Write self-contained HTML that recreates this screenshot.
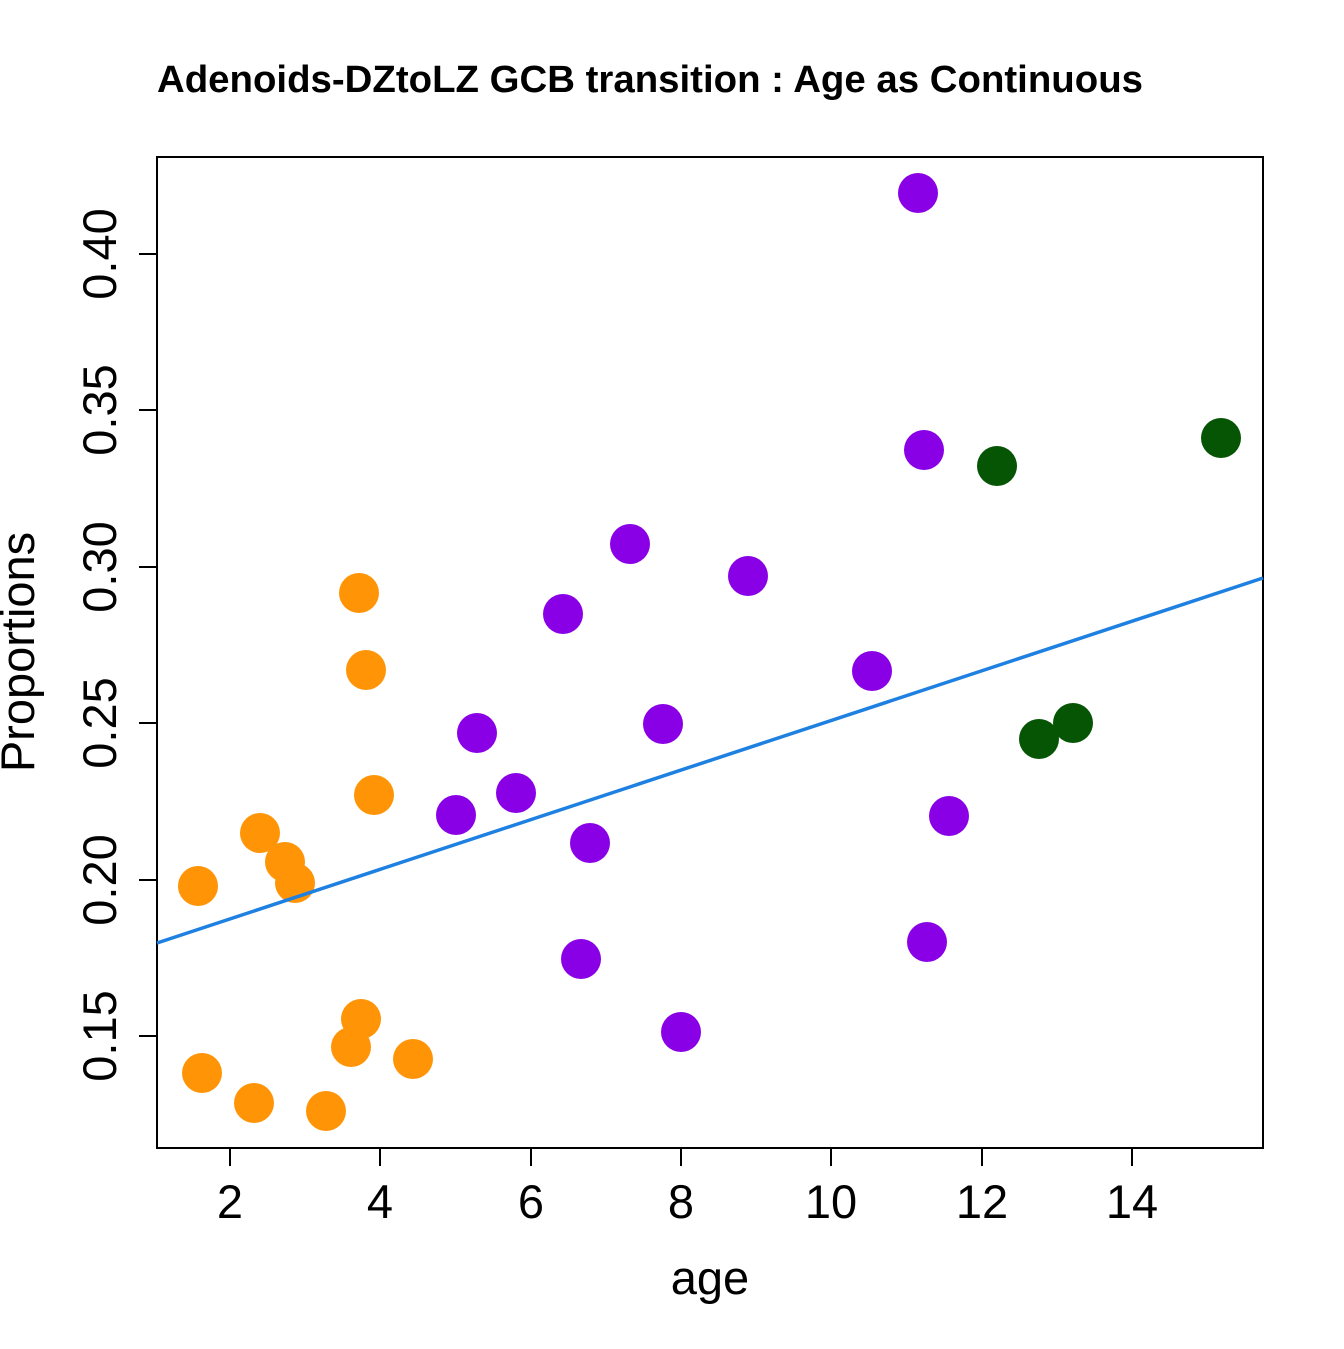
<!DOCTYPE html>
<html><head><style>body{margin:0;background:#fff}</style></head><body>
<svg width="1344" height="1344" xmlns="http://www.w3.org/2000/svg" font-family="Liberation Sans, Arial, sans-serif">
<rect width="1344" height="1344" fill="#fff"/>
<text x="157" y="92" font-size="38" font-weight="bold" textLength="986" lengthAdjust="spacingAndGlyphs">Adenoids-DZtoLZ GCB transition : Age as Continuous</text>
<rect x="157" y="157" width="1106" height="991" fill="none" stroke="#000" stroke-width="2"/>
<g stroke="#000" stroke-width="2">
<line x1="230" y1="1148" x2="1132" y2="1148"/>
<line x1="230" y1="1148" x2="230" y2="1166"/><line x1="380" y1="1148" x2="380" y2="1166"/><line x1="531" y1="1148" x2="531" y2="1166"/><line x1="681" y1="1148" x2="681" y2="1166"/><line x1="831" y1="1148" x2="831" y2="1166"/><line x1="982" y1="1148" x2="982" y2="1166"/><line x1="1132" y1="1148" x2="1132" y2="1166"/>
<line x1="157" y1="254" x2="157" y2="1036"/>
<line x1="139" y1="254" x2="157" y2="254"/><line x1="139" y1="410" x2="157" y2="410"/><line x1="139" y1="567" x2="157" y2="567"/><line x1="139" y1="723" x2="157" y2="723"/><line x1="139" y1="880" x2="157" y2="880"/><line x1="139" y1="1036" x2="157" y2="1036"/>
</g>
<g font-size="47" text-anchor="middle">
<text x="230" y="1218">2</text><text x="380" y="1218">4</text><text x="531" y="1218">6</text><text x="681" y="1218">8</text><text x="831" y="1218">10</text><text x="982" y="1218">12</text><text x="1132" y="1218">14</text>
<text transform="translate(116,254) rotate(-90)">0.40</text>
<text transform="translate(116,410) rotate(-90)">0.35</text>
<text transform="translate(116,567) rotate(-90)">0.30</text>
<text transform="translate(116,723) rotate(-90)">0.25</text>
<text transform="translate(116,880) rotate(-90)">0.20</text>
<text transform="translate(116,1036) rotate(-90)">0.15</text>
<text x="710" y="1294">age</text>
<text transform="translate(34,652) rotate(-90)">Proportions</text>
</g>
<g fill="#FF9406">
<circle cx="198" cy="886" r="20"/><circle cx="202" cy="1073" r="20"/><circle cx="254" cy="1103" r="20"/><circle cx="260" cy="833" r="20"/><circle cx="285" cy="862" r="20"/><circle cx="295" cy="883" r="20"/><circle cx="326" cy="1111" r="20"/><circle cx="351" cy="1047" r="20"/><circle cx="361" cy="1019" r="20"/><circle cx="359" cy="593" r="20"/><circle cx="366" cy="670" r="20"/><circle cx="374" cy="795" r="20"/><circle cx="413" cy="1059" r="20"/>
</g>
<g fill="#8A00E6">
<circle cx="918" cy="193" r="20"/><circle cx="924" cy="450" r="20"/><circle cx="630" cy="544" r="20"/><circle cx="748" cy="576" r="20"/><circle cx="563" cy="614" r="20"/><circle cx="872" cy="671" r="20"/><circle cx="663" cy="724" r="20"/><circle cx="477" cy="733" r="20"/><circle cx="516" cy="793" r="20"/><circle cx="456" cy="815" r="20"/><circle cx="590" cy="843" r="20"/><circle cx="949" cy="816" r="20"/><circle cx="581" cy="959" r="20"/><circle cx="927" cy="942" r="20"/><circle cx="681" cy="1032" r="20"/>
</g>
<g fill="#055505">
<circle cx="997" cy="466" r="20"/><circle cx="1221" cy="438" r="20"/><circle cx="1073" cy="723" r="20"/><circle cx="1039" cy="739" r="20"/>
</g>
<line x1="157" y1="943" x2="1263" y2="578" stroke="#1E80E0" stroke-width="3.5"/>
</svg>
</body></html>
